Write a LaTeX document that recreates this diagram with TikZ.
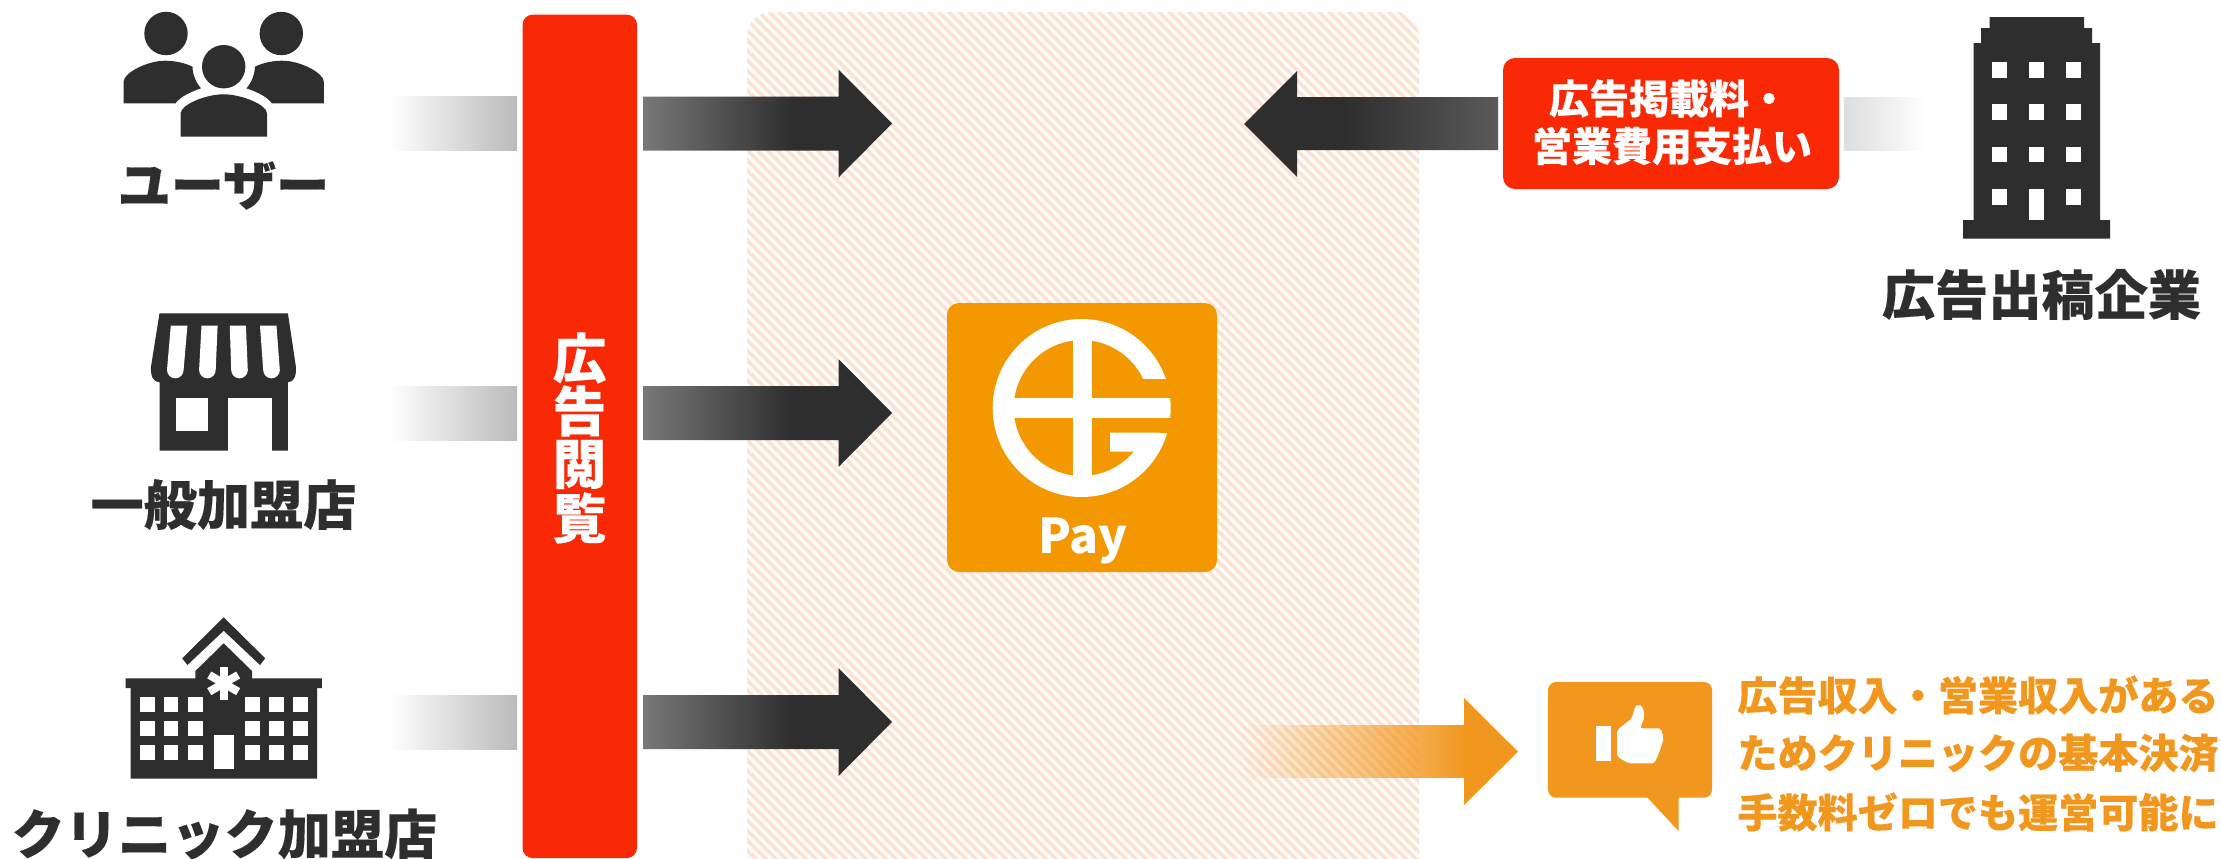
\documentclass[tikz,border=0pt]{standalone}
\usepackage{fontspec}
\setmainfont{Noto Sans CJK JP}[BoldFeatures={FakeBold=0.25}]
\newfontfamily\plainbold{Noto Sans CJK JP}
\usetikzlibrary{fadings}
\definecolor{ink}{HTML}{2E2E2E}
\definecolor{adred}{HTML}{F92805}
\definecolor{logoor}{HTML}{F39800}
\definecolor{accent}{HTML}{F2971E}
\definecolor{hatchc}{HTML}{FFE1CF}
\definecolor{armstart}{HTML}{787878}
\definecolor{armend}{HTML}{5A5A5A}
\newcommand{\fsz}[1]{\fontsize{#1}{#1}\selectfont\bfseries}
\tikzfading[name=fadein,left color=transparent!100,right color=transparent!0]
% the arrow's box occupies 25bp..75bp of the 100bp shading
\pgfdeclarehorizontalshading{rightarm}{100bp}{color(0bp)=(armstart); color(25bp)=(armstart); color(55bp)=(ink); color(100bp)=(ink)}
\pgfdeclarehorizontalshading{leftarm}{100bp}{color(0bp)=(ink); color(45bp)=(ink); color(75bp)=(armend); color(100bp)=(armend)}
\tikzset{
  x=0.5pt,y=-0.5pt,
  inktext/.style={text=ink,inner sep=0pt,font=\fsz{26.6}},
  whitetext/.style={text=white,inner sep=0pt,font=\fsz{20}},
  notetext/.style={text=accent,inner sep=0pt,anchor=west,font=\fsz{20.05}},
  railtext/.style={text=white,inner sep=0pt,font=\fsz{26.9}},
}
\newcommand{\darkarrow}[1]{%
  \shade[shading=rightarm] (643,#1-27) -- (838.5,#1-27) -- (838.5,#1-54) -- (892,#1) -- (838.5,#1+54) -- (838.5,#1+27) -- (643,#1+27) -- cycle;
}
\newcommand{\greyin}[1]{%
  \shade[left color=white,right color=black!27] (389,#1-27) rectangle (517,#1+27);
}
\begin{document}
\begin{tikzpicture}
\useasboundingbox (0,0) rectangle (2221,858);
\fill[white] (0,0) rectangle (2221,858);
% hatched panel
\begin{scope}
  \clip[rounded corners=12pt] (747,12) rectangle (1419,900);
  \foreach \k in {-90,...,70}{
    \draw[hatchc,line width=1.8pt] (747+\k*10,0) -- (747+\k*10+900,900);
  }
\end{scope}
% rail
\fill[adred,rounded corners=5pt] (522.5,14.7) rectangle (637,858);
\node[railtext] (r1) at (579.5,358) {広};
\node[railtext] (r2) at (579.5,411) {告};
\node[railtext] (r3) at (579.5,464.5) {閲};
\node[railtext] (r4) at (579.5,518) {覧};
% left bars
\greyin{123.5}\greyin{413}\greyin{722}
\darkarrow{123.5}\darkarrow{413}\darkarrow{722}
% arrow from advertiser
\shade[shading=leftarm] (1498,97) -- (1297,97) -- (1297,71) -- (1244,124) -- (1297,177) -- (1297,150) -- (1498,150) -- cycle;
\fill[adred,rounded corners=6pt] (1503,58) rectangle (1839,189);
\node[whitetext] (pay1) at (1669,98.5) {広告掲載料・};
\node[whitetext] (pay2) at (1672,146) {営業費用支払い};
\shade[left color=black!13,right color=white] (1844,97) rectangle (1926,150);
% logo
\fill[logoor,rounded corners=6pt] (947,303) rectangle (1217,572);
\coordinate (lc) at (1081.7,408);
\fill[white,even odd rule] (lc) circle (89) (lc) circle (68);
\fill[logoor] (1092,379.3) rectangle (1175,398.3);
\fill[logoor] (1092,418.3) rectangle (1175,432.7);
\fill[white] (1072.7,325) rectangle (1091.7,491);
\fill[white] (998,398.3) rectangle (1170,418.3);
\fill[white] (1110,432.7) -- (1160,432.7) -- (1140,451.7) -- (1110,451.7) -- cycle;
\node[text=white,inner sep=0pt,font=\plainbold\fontsize{24}{24}\selectfont\bfseries,anchor=base] (paylabel) at (1083,553) {Pay};
% orange arrow
\fill[accent,path fading=fadein] (1240,725) rectangle (1465,778);
\fill[accent] (1464,725) -- (1464,698) -- (1518,751.7) -- (1464,805) -- (1464,778) -- cycle;
% speech bubble
\fill[accent,rounded corners=4pt] (1548,682) rectangle (1712,797.7);
\fill[accent] (1646,796) -- (1678.5,831) -- (1678.5,796) -- cycle;
\fill[white] (1595.5,725.7) rectangle (1611,761);
\fill[white,rounded corners=1pt] (1617.2,730) -- (1631.9,718.3) -- (1635,706.7) -- (1638.3,704.3) -- (1642.7,706.7) -- (1644.6,716.7) -- (1640.2,728.3) -- (1660.6,728.3) -- (1663.8,738.3) -- (1660.6,748.3) -- (1657.4,756.7) -- (1654.2,763.3) -- (1628.7,763.3) -- (1617.2,756.7) -- cycle;
\node[notetext] (n1) at (1737,695) {広告収入・営業収入がある};
\node[notetext] (n2) at (1737,753) {ためクリニックの基本決済};
\node[notetext] (n3) at (1737,812) {手数料ゼロでも運営可能に};
% users
\fill[ink] (166,33.5) circle (21.7) (281.3,33.5) circle (21.7) (223.7,66.7) circle (21.7);
\fill[ink] (180.7,136.7) -- (180.7,113.3) .. controls (180.7,105) and (205,94.3) .. (223.7,94.3) .. controls (242,94.3) and (267,105) .. (267,113.3) -- (267,136.7) -- cycle;
\fill[ink] (123.6,103.3) -- (123.6,81.7) .. controls (123.6,73) and (147,60.7) .. (165.2,60.7) .. controls (175,60.7) and (185,63) .. (192.5,66.7) .. controls (192.5,74) and (196,83) .. (201,88.3) .. controls (190,92) and (180,97) .. (175.5,103.3) -- cycle;
\fill[ink] (323.8,103.3) -- (323.8,81.7) .. controls (323.8,73) and (300.4,60.7) .. (282.2,60.7) .. controls (272.4,60.7) and (262.4,63) .. (254.9,66.7) .. controls (254.9,74) and (251.4,83) .. (246.4,88.3) .. controls (257.4,92) and (267.4,97) .. (271.9,103.3) -- cycle;
\node[inktext] (user) at (223.5,185.5) {ユーザー};
% store
\fill[ink] (159.5,313.3) -- (287.9,313.3) -- (295.9,366.7) .. controls (296.5,376) and (294,382) .. (287.9,382.3) -- (287.9,450.7) -- (159.5,450.7) -- (159.5,382.3) .. controls (153,382) and (150.5,376) .. (151,366.7) -- cycle;
\fill[white] (175.6,398.3) rectangle (207.6,430.7);
\fill[white] (227.5,398.3) rectangle (271.8,450.7);
\fill[white] (170.8,325.7) -- (187.4,325.7) -- (183.6,370) arc[start angle=0,end angle=180,radius=8.3] -- cycle;
\fill[white] (201.5,325.7) -- (217.6,325.7) -- (215.7,370) arc[start angle=0,end angle=180,radius=8.3] -- cycle;
\fill[white] (229.8,325.7) -- (245.9,325.7) -- (247.8,370) arc[start angle=0,end angle=180,radius=8.3] -- cycle;
\fill[white] (260,325.7) -- (276.5,325.7) -- (279.8,370) arc[start angle=0,end angle=180,radius=8.3] -- cycle;
\node[inktext] (store) at (223.5,504.5) {一般加盟店};
% hospital
\fill[ink] (223.7,617.3) -- (265.2,658.3) -- (260,665) -- (223.7,630.7) -- (187.4,665) -- (182.2,658.3) -- cycle;
\fill[ink] (223.7,643.3) -- (252,671) -- (252,678.3) -- (321.9,678.3) -- (321.9,688) -- (317,688) -- (317,778.7) -- (130.7,778.7) -- (130.7,688) -- (125.5,688) -- (125.5,678.3) -- (195.4,678.3) -- (195.4,671) -- cycle;
\foreach \xa/\xb in {140.2/154.8,164.2/178.4,187.8/202.5,245.4/260,269/283.6,293/307.7}{
  \foreach \ya/\yb in {697.3/712,721/735.7,745/759.7}{
    \fill[white] (\xa,\ya) rectangle (\xb,\yb);
  }
}
\fill[white] (214.3,735.3) rectangle (233.6,769);
\foreach \a in {0,60,120}{
  \fill[white,rotate around={\a:(223.7,683.3)}] (219.7,666.6) rectangle (227.7,700);
}
\node[inktext] (clinic) at (224.5,834) {クリニック加盟店};
% office tower
\fill[ink] (1989.5,17) -- (2084,17) -- (2084,28) -- (2092,28) -- (2092,43) -- (2100,43) -- (2100,220) -- (2110,220) -- (2110,238.7) -- (1963,238.7) -- (1963,220) -- (1973.5,220) -- (1973.5,43) -- (1981,43) -- (1981,28) -- (1989.5,28) -- cycle;
\foreach \xa/\xb in {1992/2007,2029/2044,2066/2081}{
  \foreach \ya/\yb in {62/78,104/120,147/162}{
    \fill[white] (\xa,\ya) rectangle (\xb,\yb);
  }
}
\fill[white] (1992,189) rectangle (2007,205);
\fill[white] (2066,189) rectangle (2081,205);
\fill[white] (2029,189) rectangle (2044,220);
\node[inktext] (office) at (2041.5,294.5) {広告出稿企業};
\end{tikzpicture}
\end{document}
